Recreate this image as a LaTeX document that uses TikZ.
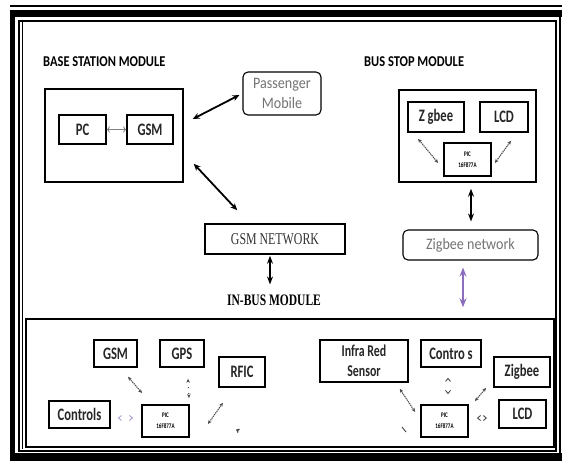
\documentclass[tikz,border=0pt]{standalone}
\usepackage{fontspec}
\setmainfont{Carlito}[FakeStretch=0.72]
\newfontfamily\widefont{Carlito}[FakeStretch=0.88]
\newfontfamily\lblfont{Carlito}[FakeStretch=0.83]
\newfontfamily\tms{Liberation Serif}[FakeStretch=0.72]
\usetikzlibrary{arrows.meta}
\definecolor{purp}{RGB}{140,110,190}
\begin{document}
\begin{tikzpicture}[x=1pt,y=-1pt,
  box/.style={draw, line width=1.5pt, inner sep=0pt, text=black!85, font=\bfseries\fontsize{17.5}{20}\selectfont},
  frame/.style={draw, line width=1.5pt, inner sep=0pt},
  rbox/.style={draw, line width=1.1pt, rounded corners=5pt, inner sep=0pt, align=center, text=gray!90!black, font=\widefont\fontsize{16}{20}\selectfont},
  picbox/.style={draw, line width=1.8pt, inner sep=0pt, align=center, font=\bfseries\fontsize{7}{11}\selectfont},
  lbl/.style={font=\lblfont\bfseries\fontsize{15}{16}\selectfont, inner sep=0pt},
  bkarrow/.style={line width=1.8pt, {Stealth[length=7pt,width=6pt]}-{Stealth[length=7pt,width=6pt]}},
  varrow/.style={line width=1.3pt, {Stealth[length=8pt,width=6pt]}-{Stealth[length=8pt,width=6pt]}},
  parrow/.style={purp, line width=2pt, {Stealth[length=9pt,width=7pt]}-{Stealth[length=9pt,width=7pt]}},
  garrow/.style={gray!60!black, line width=1.1pt, dash pattern=on 1.3pt off 0.8pt, {Stealth[length=4pt,width=3.5pt]}-{Stealth[length=4pt,width=3.5pt]}},
  tipsonly/.style={line width=0.9pt, dash pattern=on 0pt off 60pt, {Straight Barb[length=3pt,width=5pt]}-{Straight Barb[length=3pt,width=5pt]}}
]
\useasboundingbox (0,0) rectangle (562,461);
% frame
\fill (10,10) rectangle (15,461);
\fill (10,10) rectangle (562,17);
\fill (10,453) rectangle (562,461);
\draw[line width=1.5pt] (10,6) -- (562,6);
\draw[line width=1.5pt] (560,17) -- (560,453);
\draw[line width=1.5pt] (19,21) rectangle (556,451);
\draw[line width=1.2pt] (22.5,21) -- (22.5,449);

% base station
\node[lbl, anchor=west] (lbase) at (43,62) {BASE STATION MODULE};
\node[frame, minimum width=138pt, minimum height=93pt] (base) at (114,135.5) {};
\node[box, minimum width=47pt, minimum height=29pt] (pc) at (82.5,129.5) {PC};
\node[box, minimum width=46pt, minimum height=29pt] (gsma) at (150,129.5) {GSM};
\draw[gray, line width=0.8pt, {To[length=3pt]}-{To[length=3pt]}] (pc.east) -- (gsma.west);

\node[rbox, minimum width=78pt, minimum height=43pt] (pass) at (282,93.5) {Passenger\\Mobile};
\draw[bkarrow] ([shift={(9,-16.5)}]base.east) -- ([shift={(-3,1.5)}]pass.west);

\node[frame, minimum width=140pt, minimum height=30pt, font=\tms\fontsize{16.5}{20}\selectfont, text=black!80] (gsmnet) at (275,239) {GSM NETWORK};
\draw[bkarrow] ([shift={(10,-19)}]base.south east) -- ([shift={(33,-13)}]gsmnet.north west);

\node[font=\tms\bfseries\fontsize{16}{17}\selectfont, inner sep=0pt] (inbus) at (274,300) {IN-BUS MODULE};
\draw[varrow] ([shift={(-5,1)}]gsmnet.south) -- ([shift={(-4,-10)}]inbus.north);

% bus stop
\node[lbl, anchor=west] (lstop) at (364,62) {BUS STOP MODULE};
\node[frame, minimum width=137pt, minimum height=92pt] (stop) at (467.5,136) {};
\node[box, minimum width=56pt, minimum height=30pt] (zga) at (436,117) {Z gbee};
\node[box, minimum width=48pt, minimum height=30pt] (lcda) at (504,117) {LCD};
\node[picbox, minimum width=47pt, minimum height=33pt] (pica) at (467.5,159.5) {PIC\\16F877A};
\draw[garrow] ([shift={(-18,6)}]zga.south) -- ([shift={(-5,3.5)}]pica.west);
\draw[garrow] ([shift={(7,8)}]lcda.south) -- ([shift={(3,3.5)}]pica.east);

\node[rbox, minimum width=135pt, minimum height=30pt] (zgnet) at (470.5,245) {Zigbee network};
\draw[varrow] ([shift={(3.5,6)}]stop.south) -- ([shift={(0.5,-8)}]zgnet.north);

% in-bus module
\node[frame, minimum width=528pt, minimum height=128pt] (bus) at (290,383) {};
\draw[parrow] ([shift={(-7.5,7)}]zgnet.south) -- ([shift={(173,-11)}]bus.north);

\node[box, minimum width=43pt, minimum height=27pt] (gsmb) at (115.5,353.5) {GSM};
\node[box, minimum width=44pt, minimum height=27pt] (gps) at (182,353.5) {GPS};
\node[box, minimum width=46pt, minimum height=30pt] (rfic) at (242,372) {RFIC};
\node[box, minimum width=61pt, minimum height=27pt] (ctla) at (79.5,414.5) {Controls};
\node[picbox, minimum width=47pt, minimum height=32pt] (picb) at (165.5,421) {PIC\\16F877A};
\draw[garrow] ([shift={(12.5,9)}]gsmb.south) -- ([shift={(1,-11)}]picb.north west);
\draw[garrow, dash pattern=on 1pt off 5pt] ([shift={(6,11)}]gps.south) -- ([shift={(23.5,-6)}]picb.north);
\draw[garrow] ([shift={(18,3)}]picb.east) -- ([shift={(-19,15)}]rfic.south);
\draw[tipsonly, purp!70] ([shift={(7,3.5)}]ctla.east) -- ([shift={(-8,-3)}]picb.west);
\coordinate (ma) at (239,431);
\coordinate (mb) at (236,429.5);
\draw[gray!60!black, line width=0.9pt, -{Straight Barb[length=2.5pt,width=4pt]}] (ma) -- (mb);

\node[box, minimum width=88pt, minimum height=42pt, align=center, font=\bfseries\fontsize{16.5}{20}\selectfont] (ir) at (364,361) {Infra Red\\Sensor};
\node[box, minimum width=60pt, minimum height=27pt] (ctlb) at (451,353.5) {Contro s};
\node[box, line width=1.9pt, minimum width=56pt, minimum height=30pt] (zgb) at (522,372) {Zigbee};
\node[box, line width=1.9pt, minimum width=47pt, minimum height=28pt] (lcdb) at (522.5,414) {LCD};
\node[picbox, minimum width=47pt, minimum height=32pt] (picc) at (444.5,421) {PIC\\16F877A};
\draw[garrow] ([shift={(-9,6)}]ir.south east) -- ([shift={(-5,-9)}]picc.west);
\draw[tipsonly, gray!60!black] ([shift={(-3,10)}]ctlb.south) -- ([shift={(3.5,-10)}]picc.north);
\draw[garrow] ([shift={(6,-3)}]picc.north east) -- ([shift={(-7,0)}]zgb.south west);
\draw[tipsonly, gray!60!black] ([shift={(8,-3)}]picc.east) -- ([shift={(-11,4)}]lcdb.west);
\coordinate (mc) at (402,427);
\coordinate (md) at (406,432);
\draw[gray!60!black, line width=1pt] (mc) -- (md);
\end{tikzpicture}
\end{document}
